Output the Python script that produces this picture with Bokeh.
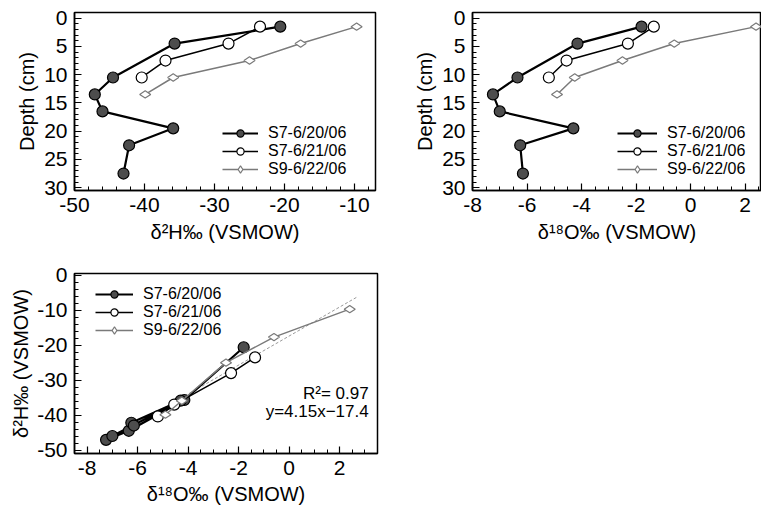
import math
from bokeh.plotting import figure
from bokeh.models import Range1d, SingleIntervalTicker, Legend, LegendItem, Label, CustomJSTickFormatter
from bokeh.layouts import column, row
from bokeh.embed import file_html
from bokeh.resources import INLINE

# ---- data ----
depth_s7_20 = [1.5, 4.5, 10.5, 13.5, 16.5, 19.5, 22.5, 27.5]
d2h_s7_20 = [-20.6, -35.7, -44.5, -47.1, -46.0, -35.9, -42.2, -43.0]
d18o_s7_20 = [-1.8, -4.15, -6.35, -7.25, -7.0, -4.3, -6.25, -6.15]

depth_s7_21 = [1.5, 4.5, 7.5, 10.5]
d2h_s7_21 = [-23.5, -28.0, -37.0, -40.4]
d18o_s7_21 = [-1.35, -2.3, -4.55, -5.2]

depth_s9_22 = [1.5, 4.5, 7.5, 10.5, 13.5]
d2h_s9_22 = [-9.7, -17.7, -25.0, -35.9, -39.9]
d18o_s9_22 = [2.4, -0.6, -2.5, -4.25, -4.9]

series_names = ["S7-6/20/06", "S7-6/21/06", "S9-6/22/06"]

fit_slope = 4.15
fit_intercept = -17.4
fit_x = [-7.4, 2.7]
fit_r2 = 0.97

FONT = "Liberation Sans"
TICK_FS = "21px"
LABEL_FS = "20px"
LEG_FS = "16px"

STYLES = [
    dict(line_color="black", line_width=2.2, marker="circle", size=11,
         fill_color="#4d4d4d", mline="black", angle=0.0),
    dict(line_color="black", line_width=1.5, marker="circle", size=11,
         fill_color="white", mline="black", angle=0.0),
    dict(line_color="#7a7a7a", line_width=1.5, marker="diamond", size=11,
         fill_color="white", mline="#7a7a7a", angle=math.pi / 2),
]


def make_fig(width, height, xr, yr, mbl, mbr, mbt, mbb, xtick, xminor, ytick, yminor, xlabel, ylabel):
    p = figure(width=width, height=height, x_range=Range1d(*xr), y_range=Range1d(*yr),
               output_backend="svg", toolbar_location=None,
               min_border_left=mbl, min_border_right=mbr, min_border_top=mbt, min_border_bottom=mbb)
    p.grid.visible = False
    p.outline_line_color = "black"
    p.outline_line_width = 1.5
    p.background_fill_color = "white"
    p.border_fill_color = "white"
    p.xaxis.ticker = SingleIntervalTicker(interval=xtick, num_minor_ticks=xminor)
    p.yaxis.ticker = SingleIntervalTicker(interval=ytick, num_minor_ticks=yminor)
    for ax in (p.xaxis[0], p.yaxis[0]):
        ax.formatter = CustomJSTickFormatter(code="return String(tick);")
        ax.axis_line_color = "black"
        ax.axis_line_width = 1.5
        ax.major_tick_in = 7
        ax.major_tick_out = 0
        ax.minor_tick_in = 4
        ax.minor_tick_out = 0
        ax.major_tick_line_color = "black"
        ax.minor_tick_line_color = "black"
        ax.major_tick_line_width = 1.2
        ax.minor_tick_line_width = 1
        ax.major_label_text_font = FONT
        ax.major_label_text_font_size = TICK_FS
        ax.major_label_text_color = "black"
        ax.axis_label_text_font = FONT
        ax.axis_label_text_font_size = LABEL_FS
        ax.axis_label_text_font_style = "normal"
        ax.axis_label_text_color = "black"
        ax.major_label_standoff = 7
    p.xaxis.axis_label = xlabel
    p.yaxis.axis_label = ylabel
    return p


def add_series(p, xs, ys, st):
    lr = p.line(xs, ys, line_color=st["line_color"], line_width=st["line_width"])
    sr = p.scatter(xs, ys, marker=st["marker"], size=st["size"], fill_color=st["fill_color"],
                   line_color=st["mline"], line_width=1.2, angle=st["angle"])
    return [lr, sr]


def add_legend(p, items, vx, vy, gw):
    leg = Legend(items=items, location=(vx, vy), padding=0, margin=0, spacing=0,
                 glyph_width=gw, glyph_height=18, label_height=18, label_standoff=10,
                 label_text_font=FONT, label_text_font_size=LEG_FS, label_text_color="black",
                 border_line_alpha=0, background_fill_alpha=0)
    p.add_layout(leg, "center")


# ---- panel 1: d2H vs depth ----
p1 = make_fig(400, 252, (-50, -7), (30.5, -1), 74, 25, 12, 62, 10, 5, 5, 5,
              "δ²H‰ (VSMOW)", "Depth (cm)")
p1.xaxis.axis_label_standoff = 6
p1.yaxis.axis_label_standoff = 3
r = []
r.append(add_series(p1, d2h_s7_20, depth_s7_20, STYLES[0]))
r.append(add_series(p1, d2h_s7_21, depth_s7_21, STYLES[1]))
r.append(add_series(p1, d2h_s9_22, depth_s9_22, STYLES[2]))
add_legend(p1, [LegendItem(label=n, renderers=rr) for n, rr in zip(series_names, r)], 148, 12, 36)

# ---- panel 2: d18O vs depth ----
p2 = make_fig(361, 252, (-8, 2.6), (30.5, -1), 72, 0, 12, 62, 2, 4, 5, 5,
              "δ¹⁸O‰ (VSMOW)", "Depth (cm)")
p2.xaxis.axis_label_standoff = 6
p2.yaxis.axis_label_standoff = 3
r = []
r.append(add_series(p2, d18o_s7_20, depth_s7_20, STYLES[0]))
r.append(add_series(p2, d18o_s7_21, depth_s7_21, STYLES[1]))
r.append(add_series(p2, d18o_s9_22, depth_s9_22, STYLES[2]))
add_legend(p2, [LegendItem(label=n, renderers=rr) for n, rr in zip(series_names, r)], 145, 12, 40)

# ---- panel 3: d2H vs d18O ----
p3 = make_fig(400, 259, (-8.5, 3.5), (-51, 0.5), 74, 23, 21, 58, 2, 4, 10, 5,
              "δ¹⁸O‰ (VSMOW)", "δ²H‰ (VSMOW)")
p3.xaxis.axis_label_standoff = 5
p3.yaxis.axis_label_standoff = 2
fit_y = [fit_slope * x + fit_intercept for x in fit_x]
p3.line(fit_x, fit_y, line_color="#9a9a9a", line_width=1, line_dash="3 2")
r = []
r.append(add_series(p3, d18o_s7_20, d2h_s7_20, STYLES[0]))
r.append(add_series(p3, d18o_s7_21, d2h_s7_21, STYLES[1]))
r.append(add_series(p3, d18o_s9_22, d2h_s9_22, STYLES[2]))
add_legend(p3, [LegendItem(label=n, renderers=rr) for n, rr in zip(series_names, r)], 21, 114, 38)

p3.add_layout(Label(x=3.15, y=-33.7, text="R²= %.2f" % fit_r2, text_align="right", text_baseline="middle",
                    text_font=FONT, text_font_size="17px", text_color="black"))
p3.add_layout(Label(x=3.15, y=-39.0, text="y=%.2fx−%.1f" % (fit_slope, -fit_intercept), text_align="right",
                    text_baseline="middle", text_font=FONT, text_font_size="17px", text_color="black"))

layout = column(row(p1, p2, spacing=0), p3, spacing=0)
open("out.html", "w").write(file_html(layout, INLINE))
